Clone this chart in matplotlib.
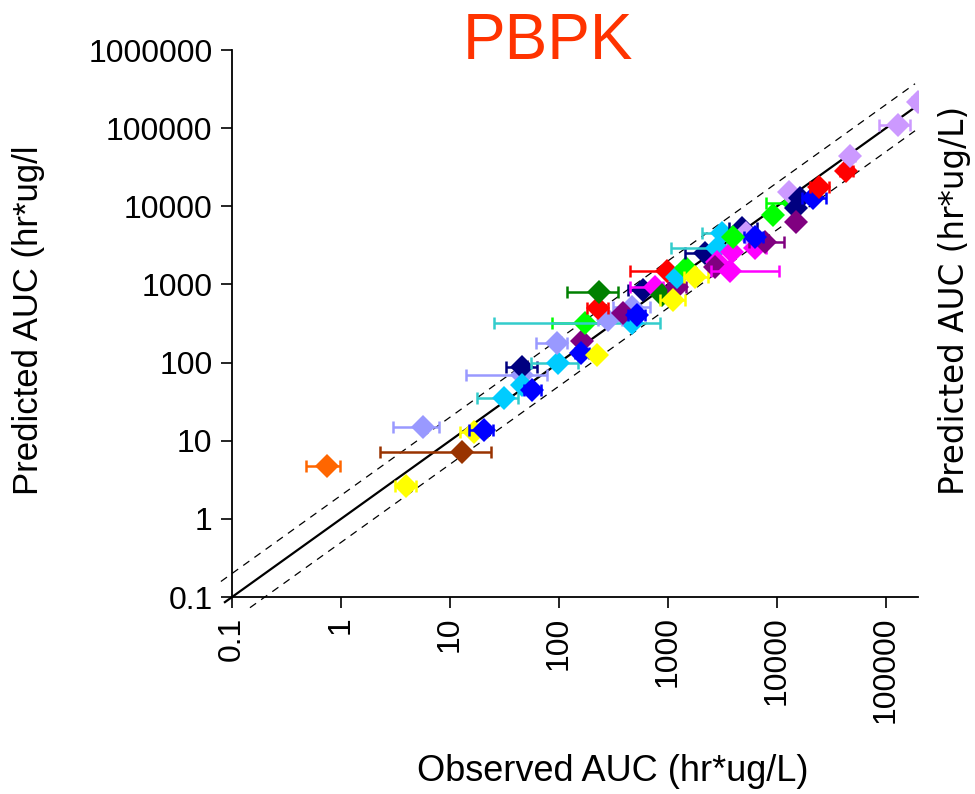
import matplotlib
matplotlib.use("Agg")
import matplotlib.pyplot as plt
import numpy as np

plt.rcParams['font.family'] = ['Liberation Sans', 'DejaVu Sans']

# observed AUC, predicted AUC, observed range (lo, hi), group
obs = [0.74, 5.6, 12.8, 3.95, 16.7, 20.5, 31, 45.5, 46, 45.5,
       56, 99, 95, 161, 159, 222, 173, 465, 283, 230,
       233, 465, 389, 516, 594, 760, 875, 1200, 1120, 986,
       1200, 1460, 1770, 2185, 2800, 3126, 2800, 2700, 3840, 3700,
       6280, 7760, 4744, 5160, 6280, 3970, 9250, 14120, 12970, 16260,
       14930, 14930, 21530, 24430, 42970, 46770, 129700, 197000]
pred = [4.7, 14.9, 7.2, 2.6, 12.8, 13.7, 35, 69, 88, 52,
        45, 100, 177, 189, 131, 125, 324, 318, 351, 494,
        807, 519, 427, 406, 849, 919, 733, 935, 632, 1500,
        1260, 1610, 1234, 2500, 2900, 4550, 1955, 1687, 2620, 1500,
        2900, 3520, 5227, 4510, 4080, 4080, 7740, 10920, 15100, 12650,
        9420, 6350, 12650, 17500, 28560, 44030, 109700, 218000]
obs_lo = [0.48, 3.0, 2.3, 3.1, 12.4, 15, 17.6, 14, 33, 45.5,
          48, 55, 62, 161, 140, 222, 86, 25.5, 230, 181,
          118, 313, 389, 430, 432, 450, 875, 1000, 845, 448,
          1200, 1460, 1400, 1430, 1059, 2037, 2800, 2700, 3840, 2500,
          6280, 5500, 3650, 5160, 5000, 3970, 9250, 7925, 12970, 16260,
          14930, 14930, 17000, 20000, 38000, 42000, 86900, 175000]
obs_hi = [0.98, 7.9, 23.6, 4.9, 21.8, 24.8, 42, 78, 63, 45.5,
          68, 148, 118, 161, 190, 222, 274, 845, 380, 280,
          346, 684, 389, 620, 800, 900, 875, 1480, 1430, 1300,
          1200, 1460, 2344, 2700, 3500, 4800, 2800, 2700, 3840, 10400,
          8000, 11600, 6500, 5160, 7500, 3970, 9250, 16000, 12970, 16260,
          14930, 14930, 28180, 30000, 50000, 52000, 166000, 220000]
group = ['orange', 'lav1', 'brown', 'yellow', 'yellow', 'blue', 'cyan', 'lav1', 'navy', 'cyan',
         'blue', 'cyan', 'lav1', 'purple', 'blue', 'yellow', 'green', 'cyan', 'lav1', 'red',
         'dkgreen', 'lav1', 'purple', 'blue', 'navy', 'magenta', 'dkgreen', 'purple', 'yellow', 'red',
         'cyan', 'green', 'yellow', 'navy', 'cyan', 'cyan', 'magenta', 'purple', 'magenta', 'magenta',
         'magenta', 'purple', 'navy', 'lav2', 'blue', 'green', 'green', 'green', 'lav2', 'navy',
         'navy', 'purple', 'blue', 'red', 'red', 'lav2', 'lav2', 'lav2']

colors = {'orange': '#FF6600', 'lav1': '#9999FF', 'lav2': '#CC99FF', 'brown': '#993300',
          'yellow': '#FFFF00', 'blue': '#0000FF', 'cyan': '#00CCFF', 'navy': '#000080',
          'purple': '#800080', 'green': '#00FF00', 'dkgreen': '#008000', 'red': '#FF0000',
          'magenta': '#FF00FF'}
bar_colors = dict(colors, cyan='#33CCCC')

XMIN, XMAX = 0.1, 1.97e5
YMIN, YMAX = 0.1, 1e6

fig = plt.figure(figsize=(9.75, 7.94), dpi=100)
ax = fig.add_axes([0.238, 0.2481, 0.7035, 0.6889])

# unity and 2-fold lines
x_up = np.array([XMIN * 0.79, XMAX * 0.94])
x_mid = np.array([XMIN * 0.86, XMAX * 0.94])
x_lo = np.array([XMIN * 1.46, XMAX * 0.94])
ax.plot(x_up, 2 * x_up, color='black', lw=0.9, ls=(0, (6, 5)), clip_on=False)
ax.plot(x_mid, x_mid, color='black', lw=1.6, clip_on=False)
ax.plot(x_lo, x_lo / 2, color='black', lw=0.9, ls=(0, (6, 5)), clip_on=False)

for x, y, lo, hi, g in zip(obs, pred, obs_lo, obs_hi, group):
    ax.errorbar(x, y, xerr=[[x - lo], [hi - x]], fmt='none',
                ecolor=bar_colors[g], capsize=4.5, elinewidth=1.8, capthick=1.8)
    ax.plot(x, y, 'D', color=colors[g], ms=12, mew=0)

ax.set_xscale('log')
ax.set_yscale('log')
ax.set_xlim(XMIN, XMAX)
ax.set_ylim(YMIN, YMAX)

xt = [0.1, 1, 10, 100, 1000, 10000, 100000]
yt = [0.1, 1, 10, 100, 1000, 10000, 100000, 1000000]
ax.set_xticks(xt)
ax.set_xticklabels(['0.1', '1', '10', '100', '1000', '10000', '100000'],
                   rotation=90, va='top')
ax.set_yticks(yt)
ax.set_yticklabels(['0.1', '1', '10', '100', '1000', '10000', '100000', '1000000'])
ax.minorticks_off()
ax.tick_params(labelsize=23, length=8, width=1.2, direction='out')
ax.tick_params(axis='x', pad=6)
ax.tick_params(axis='y', pad=6)

ax.spines['top'].set_visible(False)
ax.spines['right'].set_visible(False)
ax.spines['left'].set_linewidth(1.3)
ax.spines['bottom'].set_linewidth(1.3)

fig.text(0.562, 0.947, 'PBPK', color='#FF3300', fontsize=46, ha='center', va='center')
fig.text(0.029, 0.597, 'Predicted AUC (hr*ug/l', fontsize=25, rotation=90,
         ha='center', va='center')
fig.text(0.628, 0.028, 'Observed AUC (hr*ug/L)', fontsize=26, ha='center', va='center')
fig.text(0.979, 0.622, 'Predicted AUC (hr*ug/L)', fontsize=23.5, rotation=90,
         ha='center', va='center', family='DejaVu Sans')

fig.savefig('out.png', dpi=100)
